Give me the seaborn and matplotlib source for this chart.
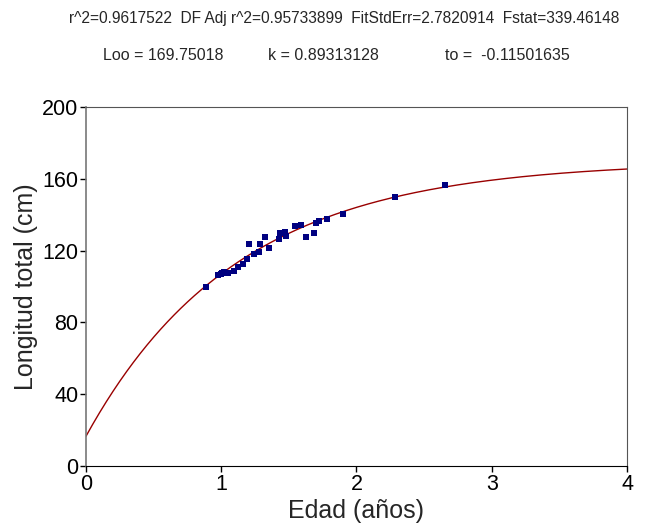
import numpy as np
import pandas as pd
import matplotlib
matplotlib.use("Agg")
import matplotlib.pyplot as plt
import seaborn as sns

# Observed data (age in years, total length in cm)
edad = [0.887, 0.978, 1.000, 1.008, 1.023, 1.050, 1.094, 1.122, 1.159, 1.188,
        1.203, 1.240, 1.281, 1.284, 1.321, 1.355, 1.425, 1.434, 1.471, 1.479,
        1.545, 1.587, 1.629, 1.684, 1.701, 1.725, 1.780, 1.900, 2.287, 2.654]
longitud = [99.6, 106.6, 107.0, 107.4, 107.9, 107.5, 108.5, 110.7, 112.4, 115.5,
            123.5, 117.9, 119.4, 123.5, 127.4, 121.6, 126.5, 129.6, 130.2, 128.1,
            133.7, 134.4, 127.4, 129.6, 135.5, 136.3, 137.8, 140.2, 149.7, 156.7]

# von Bertalanffy fit parameters
Loo = 169.75018
k = 0.89313128
t0 = -0.11501635

x_ticks = [0, 1, 2, 3, 4]
y_ticks = [0, 40, 80, 120, 160, 200]

sns.set_theme(style="white")
plt.rcParams['font.family'] = ['Liberation Sans', 'DejaVu Sans']

fig = plt.figure(figsize=(6.46, 5.23), dpi=100)
ax = fig.add_axes([0.1331, 0.109, 0.8375, 0.6864])

t = np.linspace(0, 4, 400)
curve = pd.DataFrame({"t": t, "L": Loo * (1 - np.exp(-k * (t - t0)))})
sns.lineplot(data=curve, x="t", y="L", ax=ax, color="#990000", linewidth=1.0)

df = pd.DataFrame({"edad": edad, "longitud": longitud})
sns.scatterplot(data=df, x="edad", y="longitud", ax=ax, marker="s", s=20,
                color="#000080", edgecolor="#000080", linewidth=0, zorder=3)

ax.set_xlim(0, 4)
ax.set_ylim(0, 200)
ax.set_xticks(x_ticks)
ax.set_yticks(y_ticks)
ax.tick_params(axis="both", labelsize=15.5, length=4, width=1, direction="out",
               bottom=True, left=True, colors="black", pad=1.5)
ax.set_xlabel("Edad (años)", fontsize=18, labelpad=3)
ax.set_ylabel("Longitud total (cm)", fontsize=18, labelpad=3)

for side in ["top", "right", "bottom"]:
    ax.spines[side].set_color("black")
    ax.spines[side].set_linewidth(0.8)
ax.spines["left"].set_color("#777777")
ax.spines["left"].set_linewidth(1.2)
ax.spines["top"].set_color("#555555")
ax.spines["right"].set_color("#555555")

fig.text(344 / 646, 1 - 19 / 523, "r^2=0.9617522  DF Adj r^2=0.95733899  FitStdErr=2.7820914  Fstat=339.46148",
         ha="center", va="center", fontsize=11.2)
fig.text(103 / 646, 1 - 56 / 523, "Loo = 169.75018", ha="left", va="center", fontsize=11.5)
fig.text(268 / 646, 1 - 56 / 523, "k = 0.89313128", ha="left", va="center", fontsize=11.5)
fig.text(445 / 646, 1 - 56 / 523, "to =  -0.11501635", ha="left", va="center", fontsize=11.5)

fig.savefig("out.png", dpi=100)
